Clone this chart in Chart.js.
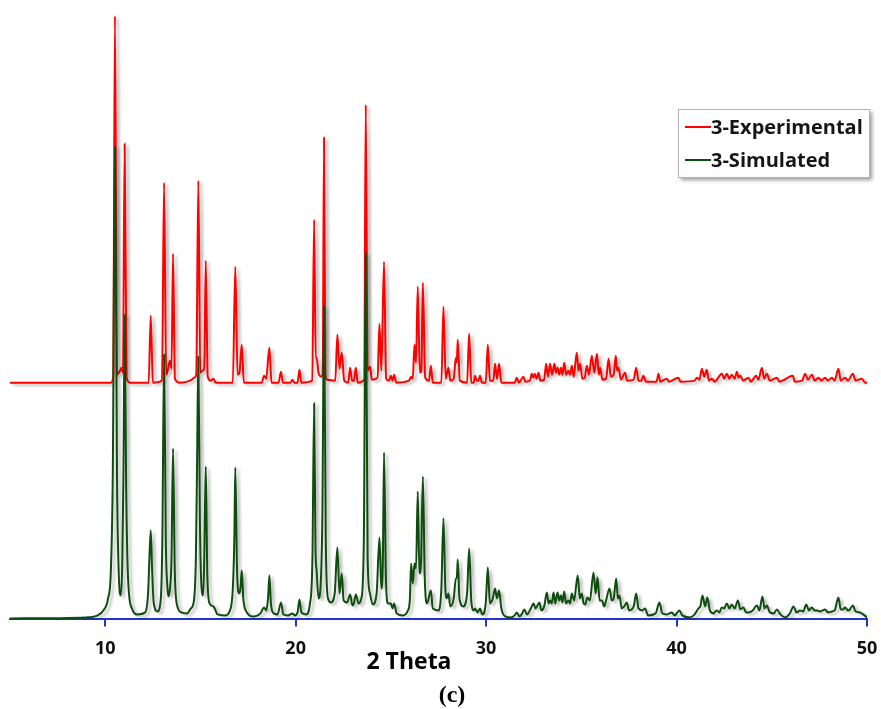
<!DOCTYPE html>
<html>
<head>
<meta charset="utf-8">
<script src="https://cdn.jsdelivr.net/npm/chart.js@4/dist/chart.umd.min.js"></script>
<style>
  html, body { margin: 0; padding: 0; background: #ffffff; }
  #box { width: 881px; height: 709px; }
</style>
</head>
<body>
<div id="box"><canvas id="pxrd"></canvas></div>
<script>
// 2 Theta (deg) and intensity (arb. units)
var expTheta = [5.0, 10.3, 10.42, 10.51, 10.62, 10.78, 10.86, 10.93, 11.02, 11.12, 11.3,
  12.28, 12.39, 12.5, 12.98, 13.09, 13.2, 13.28, 13.4, 13.48, 13.56, 13.66, 13.9,
  14.55, 14.66, 14.78, 14.89, 14.99, 15.1, 15.2, 15.28, 15.38, 15.55, 15.68, 15.8,
  16.7, 16.83, 16.95, 17.05, 17.17, 17.28, 18.22, 18.34, 18.45, 18.62, 18.73,
  19.1, 19.23, 19.33, 19.73, 19.83, 19.93, 20.1, 20.2, 20.3,
  20.87, 20.97, 21.05, 21.1, 21.2, 21.34, 21.42, 21.49, 21.56, 21.65, 22.08, 22.19, 22.3, 22.42, 22.55,
  22.76, 22.86, 22.96, 23.06, 23.16, 23.26, 23.6, 23.68, 23.78, 23.91, 24.0,
  24.3, 24.4, 24.5, 24.64, 24.75, 24.9, 25.0, 25.08, 25.17, 25.28,
  25.95, 26.06, 26.15, 26.24, 26.32, 26.41, 26.52, 26.6, 26.68, 26.8, 27.0, 27.1, 27.2,
  27.65, 27.76, 27.88, 28.02, 28.12, 28.3, 28.41, 28.46, 28.51, 28.62,
  29.0, 29.11, 29.22, 29.35, 29.42, 29.5, 29.6, 29.68, 29.78, 29.98, 30.09, 30.2,
  30.38, 30.47, 30.57, 30.68, 30.8, 31.5, 31.61, 31.72, 31.96, 32.05,
  32.3, 32.4, 32.48, 32.55, 32.65, 32.75, 32.85, 33.05, 33.15, 33.25, 33.36, 33.46,
  33.59, 33.67, 33.75, 33.84, 33.93, 34.01, 34.1, 34.2, 34.32, 34.41, 34.5, 34.6,
  34.76, 34.85, 34.94, 35.05, 35.18, 35.29, 35.4, 35.55, 35.68, 35.82, 35.92, 35.99,
  36.1, 36.3, 36.43, 36.55, 36.7, 36.81, 36.88, 36.95, 37.08, 37.3, 37.4,
  37.75, 37.88, 38.0, 38.15, 38.26, 38.4, 38.95, 39.05, 39.15, 39.49, 39.6,
  40.1, 40.2, 40.95, 41.07, 41.2, 41.33, 41.45, 41.59, 41.7, 41.85, 42.0,
  42.38, 42.5, 42.64, 42.77, 42.9, 43.05, 43.17, 43.26, 43.34, 43.5, 43.78, 43.9,
  44.18, 44.3, 44.48, 44.6, 44.74, 44.9, 45.27, 45.4, 46.11, 46.2, 46.6, 46.75, 46.9,
  47.11, 47.25, 47.45, 47.6, 47.8, 47.95, 48.16, 48.3, 48.5, 48.62, 48.85, 49.0,
  49.26, 49.4, 49.73, 49.9, 50.0];
var expIntensity = [0, 0, 6, 367, 8, 12, 15, 10, 239, 5, 0,
  0, 67, 0, 2, 200, 8, 12, 22, 14, 129, 4, 0,
  3, 5, 8, 202, 10, 12, 14, 122, 6, 2, 4, 0,
  0, 116, 8, 10, 38, 0, 0, 7, 4, 35, 0,
  0, 11, 0, 0, 3, 0, 0, 13, 0,
  2, 163, 25, 25, 10, 6, 9, 245, 8, 3, 2, 48, 14, 30, 2,
  0, 15, 2, 2, 15, 0, 3, 278, 12, 16, 3,
  5, 59, 12, 121, 4, 2, 7, 2, 8, 0,
  2, 6, 4, 38, 20, 96, 10, 12, 100, 5, 2, 17, 0,
  0, 76, 4, 15, 2, 4, 25, 20, 43, 2,
  0, 49, 0, 0, 7, 2, 2, 7, 0, 0, 38, 2,
  2, 19, 4, 19, 0, 0, 5, 0, 6, 1,
  2, 9, 5, 9, 4, 10, 2, 3, 19, 6, 19, 8,
  19, 10, 15, 8, 15, 8, 20, 8, 12, 8, 17, 6,
  30, 12, 19, 4, 5, 17, 8, 27, 10, 29, 8, 15,
  3, 4, 24, 6, 8, 27, 12, 15, 3, 10, 2,
  3, 15, 2, 2, 7, 1, 1, 9, 1, 4, 1,
  5, 1, 2, 5, 3, 14, 6, 13, 2, 4, 1,
  9, 4, 9, 4, 8, 4, 11, 5, 7, 2, 5, 1,
  7, 3, 15, 4, 9, 2, 5, 1, 7, 1, 2, 9, 3,
  8, 2, 5, 2, 5, 2, 5, 2, 14, 2, 5, 2,
  9, 2, 4, 0, 0];

var simTheta = [5.0, 9.0, 9.6, 9.9, 10.15, 10.3, 10.4, 10.51, 10.62, 10.72, 10.82, 10.9, 10.96,
  11.02, 11.1, 11.2, 11.4, 11.7, 12.1, 12.25, 12.32, 12.39, 12.46, 12.55, 12.75,
  12.92, 13.0, 13.09, 13.18, 13.27, 13.32, 13.4, 13.48, 13.56, 13.65, 13.75, 14.0,
  14.3, 14.5, 14.66, 14.76, 14.82, 14.89, 14.97, 15.06, 15.14, 15.2, 15.28, 15.36,
  15.48, 15.68, 15.9, 16.3, 16.55, 16.7, 16.78, 16.83, 16.92, 17.02, 17.1, 17.17,
  17.25, 17.4, 17.8, 18.15, 18.34, 18.45, 18.55, 18.62, 18.7, 18.85, 19.05, 19.23,
  19.35, 19.6, 19.83, 19.95, 20.1, 20.2, 20.3, 20.55, 20.75, 20.88, 20.97, 21.04,
  21.1, 21.2, 21.3, 21.4, 21.49, 21.58, 21.7, 21.85, 22.05, 22.19, 22.3, 22.42,
  22.52, 22.7, 22.86, 22.98, 23.06, 23.16, 23.3, 23.45, 23.58, 23.68, 23.78, 23.9,
  24.05, 24.25, 24.4, 24.5, 24.58, 24.64, 24.74, 24.85, 25.0, 25.08, 25.17, 25.3,
  25.6, 25.9, 26.0, 26.06, 26.15, 26.24, 26.32, 26.41, 26.5, 26.58, 26.68, 26.78,
  26.9, 27.1, 27.2, 27.5, 27.65, 27.76, 27.86, 27.94, 28.02, 28.12, 28.3, 28.41,
  28.46, 28.51, 28.6, 28.8, 29.0, 29.11, 29.22, 29.35, 29.42, 29.55, 29.68, 29.8,
  29.98, 30.09, 30.2, 30.35, 30.47, 30.57, 30.68, 30.8, 31.0, 31.3, 31.5, 31.61,
  31.75, 31.9, 32.0, 32.15, 32.4, 32.49, 32.6, 32.8, 32.9, 33.05, 33.19, 33.28,
  33.36, 33.45, 33.54, 33.63, 33.75, 33.84, 33.93, 34.01, 34.1, 34.2, 34.32, 34.41,
  34.5, 34.62, 34.81, 34.92, 35.02, 35.12, 35.2, 35.32, 35.45, 35.64, 35.75, 35.85,
  35.96, 36.08, 36.2, 36.3, 36.48, 36.6, 36.7, 36.83, 36.92, 37.0, 37.12, 37.25,
  37.39, 37.5, 37.75, 37.88, 38.0, 38.2, 38.35, 38.5, 38.9, 39.1, 39.25, 39.5,
  39.75, 39.9, 40.15, 40.3, 40.71, 40.95, 41.15, 41.25, 41.36, 41.5, 41.62, 41.75,
  41.94, 42.1, 42.25, 42.38, 42.5, 42.64, 42.77, 42.9, 43.05, 43.22, 43.35, 43.51,
  43.65, 43.77, 44.0, 44.22, 44.35, 44.51, 44.62, 44.74, 44.9, 45.1, 45.27, 45.45,
  45.7, 45.95, 46.14, 46.3, 46.49, 46.65, 46.81, 46.95, 47.1, 47.25, 47.37, 47.55,
  47.8, 47.95, 48.16, 48.3, 48.5, 48.62, 48.75, 48.85, 49.0, 49.1, 49.26, 49.4,
  49.64, 49.8, 50.0];
var simIntensity = [0, 1, 3, 8, 20, 50, 150, 472, 140, 40, 23, 60, 150,
  304, 130, 40, 10, 4, 6, 25, 60, 88, 50, 15, 7,
  20, 80, 264, 80, 30, 22, 30, 60, 170, 50, 15, 6,
  5, 10, 18, 60, 150, 262, 100, 30, 23, 60, 152, 45,
  15, 12, 4, 3, 8, 30, 80, 151, 50, 25, 30, 48,
  20, 7, 2, 5, 11, 8, 20, 43, 15, 5, 4, 16,
  4, 3, 5, 3, 6, 19, 6, 4, 15, 60, 215, 70,
  48, 20, 30, 100, 312, 80, 20, 16, 25, 71, 25, 45,
  18, 16, 24, 13, 15, 24, 15, 20, 80, 365, 60, 25,
  14, 25, 81, 30, 60, 166, 40, 15, 15, 10, 15, 5,
  3, 8, 20, 55, 35, 55, 50, 127, 45, 55, 142, 40,
  15, 28, 10, 8, 30, 100, 30, 20, 25, 12, 20, 40,
  40, 59, 20, 12, 25, 70, 18, 8, 10, 6, 10, 4,
  15, 51, 15, 20, 30, 20, 28, 10, 2, 1, 3, 6,
  2, 5, 9, 4, 12, 15, 10, 16, 8, 12, 26, 15,
  18, 15, 26, 15, 26, 18, 23, 16, 27, 15, 18, 15,
  25, 18, 43, 20, 25, 15, 14, 21, 18, 46, 25, 41,
  18, 18, 12, 18, 30, 18, 20, 40, 20, 23, 10, 12,
  16, 8, 12, 25, 10, 8, 10, 3, 5, 16, 5, 4,
  6, 3, 8, 3, 1, 4, 10, 12, 23, 12, 21, 8,
  5, 8, 6, 11, 10, 15, 10, 14, 10, 18, 9, 11,
  6, 6, 8, 13, 8, 22, 10, 13, 6, 5, 9, 4,
  1, 5, 12, 6, 8, 7, 14, 8, 11, 8, 8, 7,
  9, 6, 7, 8, 21, 9, 9, 11, 8, 9, 13, 7,
  6, 4, 1];

var seriesNames = ['3-Experimental', '3-Simulated'];
var xTicks = [10, 20, 30, 40, 50];
var xTitle = '2 Theta';
var panelLabel = '(c)';
var expOffset = 236; // experimental pattern is stacked above the simulated one

function toPoints(xs, ys, shift) {
  var pts = [];
  for (var i = 0; i < xs.length; i++) {
    pts.push({ x: xs[i], y: ys[i] + shift });
  }
  return pts;
}

// soft drop shadow behind each trace, like the original figure
var traceShadow = {
  id: 'traceShadow',
  beforeDatasetDraw: function(chart) {
    var ctx = chart.ctx;
    ctx.save();
    ctx.shadowColor = 'rgba(0,0,0,0.28)';
    ctx.shadowBlur = 3;
    ctx.shadowOffsetX = 3;
    ctx.shadowOffsetY = 2;
  },
  afterDatasetDraw: function(chart) {
    chart.ctx.restore();
  }
};

// boxed legend inside the plot (top right) and the two captions under the axis
var extras = {
  id: 'extras',
  afterDraw: function(chart) {
    var ctx = chart.ctx;
    var x = 678, y = 109, w = 191, h = 68;
    ctx.save();
    ctx.shadowColor = 'rgba(0,0,0,0.4)';
    ctx.shadowBlur = 4;
    ctx.shadowOffsetX = 3;
    ctx.shadowOffsetY = 3;
    ctx.fillStyle = '#ffffff';
    ctx.fillRect(x, y, w, h);
    ctx.restore();

    ctx.save();
    ctx.strokeStyle = '#b4b4b4';
    ctx.lineWidth = 1;
    ctx.strokeRect(x + 0.5, y + 0.5, w, h);
    ctx.font = 'bold 20px "Open Sans"';
    ctx.textBaseline = 'middle';
    chart.data.datasets.forEach(function(ds, i) {
      var ly = y + 18 + i * 33;
      ctx.strokeStyle = ds.borderColor;
      ctx.lineWidth = 2;
      ctx.beginPath();
      ctx.moveTo(x + 7, ly);
      ctx.lineTo(x + 33, ly);
      ctx.stroke();
      ctx.fillStyle = '#161616';
      ctx.fillText(ds.label, x + 33, ly + 1);
    });

    var area = chart.chartArea;
    ctx.textAlign = 'center';
    ctx.textBaseline = 'alphabetic';
    ctx.fillStyle = '#000000';
    ctx.font = 'bold 23px "Open Sans"';
    ctx.fillText(xTitle, 409, area.bottom + 50);
    ctx.font = 'bold 24px "Liberation Serif"';
    ctx.fillText(panelLabel, 452, area.bottom + 83);
    ctx.restore();
  }
};

var ctx = document.getElementById('pxrd').getContext('2d');
var chart = new Chart(ctx, {
  type: 'line',
  data: {
    datasets: [{
      label: seriesNames[0],
      data: toPoints(expTheta, expIntensity, expOffset),
      borderColor: '#ff0000',
      borderWidth: 2,
      pointRadius: 0,
      cubicInterpolationMode: 'monotone',
      order: 1
    }, {
      label: seriesNames[1],
      data: toPoints(simTheta, simIntensity, 0),
      borderColor: '#0f4d0f',
      borderWidth: 2,
      pointRadius: 0,
      cubicInterpolationMode: 'monotone',
      order: 0
    }]
  },
  options: {
    responsive: true,
    maintainAspectRatio: false,
    animation: false,
    layout: { padding: { left: 10, right: 14, top: 0, bottom: 37 } },
    plugins: {
      legend: { display: false },
      tooltip: { enabled: false }
    },
    scales: {
      x: {
        type: 'linear',
        min: 5,
        max: 50,
        afterBuildTicks: function(axis) {
          axis.ticks = xTicks.map(function(v) { return { value: v }; });
        },
        afterFit: function(axis) {
          axis.paddingLeft = 0;
          axis.paddingRight = 0;
        },
        ticks: {
          color: '#111111',
          font: { family: 'Open Sans', size: 18, weight: 'bold' },
          padding: 12,
          maxRotation: 0
        },
        grid: {
          drawOnChartArea: false,
          drawTicks: true,
          tickLength: 7,
          color: '#2233cc',
          lineWidth: 2
        },
        border: { color: '#2233cc', width: 2 }
      },
      y: {
        display: false,
        min: -1,
        max: 619
      }
    }
  },
  plugins: [traceShadow, extras]
});
</script>
</body>
</html>
